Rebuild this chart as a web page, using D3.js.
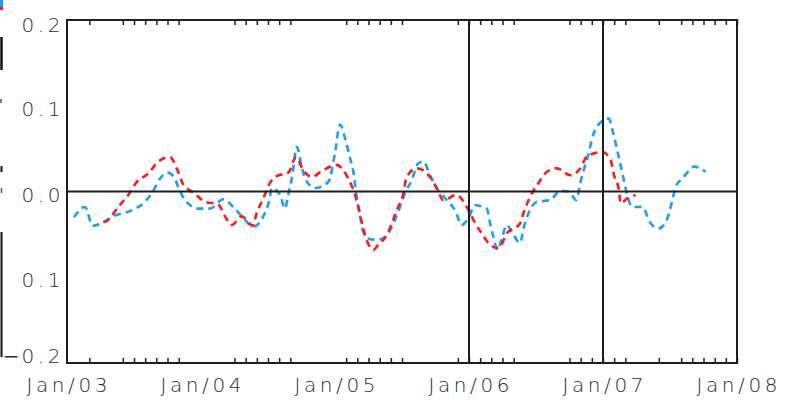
<!DOCTYPE html>
<html><head><meta charset="utf-8">
<script src="https://cdn.jsdelivr.net/npm/d3@7"></script>
<style>
html,body{margin:0;padding:0;background:#fff;}
svg{display:block;}
.lbl{font-family:"DejaVu Sans",sans-serif;font-weight:200;font-size:20px;fill:#2a2a2a;letter-spacing:3.6px;}
.minus{font-weight:400;letter-spacing:2px;}
</style></head>
<body>
<script>
// ---- data (decimal years, values) ----
const yearTicks = [2003, 2004, 2005, 2006, 2007, 2008];
const yearLabels = ["Jan/03", "Jan/04", "Jan/05", "Jan/06", "Jan/07", "Jan/08"];
const yTickValues = [0.2, 0.1, 0.0, -0.1, -0.2];
const yTickLabels = ["0.2", "0.1", "0.0", "0.1", "\u22120.2"];
const minorTickMonths = [2,5,6,7,8,9,10,15,16,17,18,19,20,25,26,27,28,29,30,35,36,37,38,39,40,45,46,47,48,49,50,53,55,56,57,58,59,60];
const markerYears = [2006, 2007];

const blueDates = [2003.052,2003.134,2003.192,2003.259,2003.343,2003.483,2003.582,2003.644,2003.694,2003.749,2003.799,2003.831,2003.881,2003.980,2004.067,2004.166,2004.241,2004.316,2004.390,2004.465,2004.510,2004.528,2004.590,2004.627,2004.651,2004.677,2004.716,2004.751,2004.784,2004.851,2004.950,2005.000,2005.037,2005.082,2005.112,2005.137,2005.162,2005.187,2005.211,2005.274,2005.323,2005.386,2005.448,2005.485,2005.522,2005.572,2005.622,2005.659,2005.709,2005.759,2005.834,2005.896,2005.946,2005.996,2006.045,2006.133,2006.157,2006.182,2006.213,2006.245,2006.282,2006.319,2006.382,2006.407,2006.445,2006.507,2006.607,2006.681,2006.744,2006.801,2006.831,2006.856,2006.894,2006.919,2006.956,2007.043,2007.076,2007.106,2007.131,2007.156,2007.181,2007.218,2007.293,2007.355,2007.418,2007.481,2007.518,2007.543,2007.593,2007.680,2007.767];
const blueValues = [-0.030,-0.018,-0.040,-0.037,-0.029,-0.022,-0.012,0.001,0.015,0.022,0.017,0.005,-0.010,-0.020,-0.020,-0.009,-0.018,-0.031,-0.041,-0.029,-0.010,0.004,-0.004,-0.020,-0.004,0.015,0.052,0.029,0.013,0.004,0.011,0.045,0.078,0.058,0.039,0.023,-0.006,-0.029,-0.047,-0.056,-0.056,-0.051,-0.033,-0.018,-0.002,0.013,0.033,0.035,0.019,0.004,-0.010,-0.022,-0.039,-0.031,-0.016,-0.020,-0.037,-0.053,-0.068,-0.055,-0.039,-0.047,-0.060,-0.043,-0.025,-0.012,-0.010,0.001,0.000,-0.010,0.010,0.025,0.045,0.062,0.076,0.085,0.068,0.048,0.031,0.013,-0.004,-0.018,-0.018,-0.037,-0.043,-0.031,-0.010,0.006,0.015,0.029,0.023];

const redDates = [2003.271,2003.308,2003.383,2003.457,2003.520,2003.607,2003.681,2003.769,2003.819,2003.868,2003.943,2004.030,2004.129,2004.179,2004.229,2004.304,2004.386,2004.416,2004.465,2004.515,2004.565,2004.651,2004.709,2004.763,2004.826,2004.913,2005.013,2005.062,2005.099,2005.137,2005.174,2005.224,2005.286,2005.323,2005.386,2005.460,2005.510,2005.535,2005.610,2005.709,2005.759,2005.808,2005.908,2005.983,2006.033,2006.095,2006.157,2006.220,2006.282,2006.382,2006.407,2006.457,2006.519,2006.582,2006.657,2006.757,2006.831,2006.881,2006.993,2007.056,2007.086,2007.119,2007.131,2007.181,2007.243];
const redValues = [-0.036,-0.033,-0.018,-0.004,0.011,0.021,0.035,0.040,0.027,0.008,-0.001,-0.012,-0.015,-0.029,-0.039,-0.029,-0.040,-0.025,-0.008,0.010,0.018,0.022,0.040,0.025,0.017,0.025,0.031,0.025,0.015,0.002,-0.018,-0.051,-0.068,-0.062,-0.051,-0.022,-0.002,0.017,0.027,0.017,0.004,-0.010,-0.004,-0.018,-0.033,-0.049,-0.062,-0.066,-0.049,-0.037,-0.025,-0.006,0.010,0.023,0.027,0.019,0.027,0.041,0.046,0.037,0.017,0.002,-0.014,-0.008,-0.004];

// ---- layout ----
const W = 791, H = 405;
const L = 67, R = 737, T = 20, B = 363;
const svg = d3.select("body").append("svg").attr("width", W).attr("height", H);

const x = d3.scaleLinear().domain([2003, 2008]).range([L, R]);
const y = d3.scaleLinear().domain([-0.2, 0.2]).range([B, T]);

const blueColor = "#1a9ff5", redColor = "#ff1a1a", axisColor = "#1e1e1e";

// left clipped fragments (cut-off legend / title)
const frag = svg.append("g");
frag.append("line").attr("x1",1.5).attr("x2",1.5).attr("y1",0).attr("y2",7).attr("stroke",blueColor).attr("stroke-width",3);
frag.append("line").attr("x1",1.5).attr("x2",1.5).attr("y1",7).attr("y2",10).attr("stroke",redColor).attr("stroke-width",3);
frag.append("line").attr("x1",1.5).attr("x2",1.5).attr("y1",37).attr("y2",70).attr("stroke","#111").attr("stroke-width",2.5);
frag.append("line").attr("x1",1).attr("x2",1).attr("y1",99).attr("y2",103).attr("stroke","#555").attr("stroke-width",1.5);
frag.append("line").attr("x1",1.5).attr("x2",1.5).attr("y1",166).attr("y2",172).attr("stroke","#111").attr("stroke-width",2);
frag.append("line").attr("x1",1.5).attr("x2",1.5).attr("y1",188).attr("y2",193).attr("stroke","#555").attr("stroke-width",1.5);
frag.append("line").attr("x1",1.5).attr("x2",1.5).attr("y1",232).attr("y2",357).attr("stroke","#111").attr("stroke-width",2);

// series
const line = d3.line().x(d => x(d[0])).y(d => y(d[1])).curve(d3.curveMonotoneX);
const blueData = blueDates.map((d, i) => [d, blueValues[i]]);
const redData = redDates.map((d, i) => [d, redValues[i]]);

svg.append("path").datum(blueData).attr("d", line).attr("fill","none")
  .attr("stroke", blueColor).attr("stroke-width", 2.6).attr("stroke-dasharray","7,5");
svg.append("path").datum(redData).attr("d", line).attr("fill","none")
  .attr("stroke", redColor).attr("stroke-width", 2.6).attr("stroke-dasharray","7,5");

// zero line and year markers
svg.append("line").attr("x1", L).attr("x2", R).attr("y1", y(0)).attr("y2", y(0))
  .attr("stroke", axisColor).attr("stroke-width", 1.8);
svg.selectAll("line.marker").data(markerYears).join("line").attr("class","marker")
  .attr("x1", d => x(d)).attr("x2", d => x(d)).attr("y1", T).attr("y2", B)
  .attr("stroke", axisColor).attr("stroke-width", 2);

// minor ticks via axes (top and bottom, inward)
const minorVals = minorTickMonths.map(m => 2003 + m / 12);
const bottomAxis = d3.axisBottom(x).tickValues(minorVals).tickSize(-5).tickFormat("");
const topAxis = d3.axisTop(x).tickValues(minorVals).tickSize(-5).tickFormat("");
const gb = svg.append("g").attr("transform", `translate(0,${B})`).call(bottomAxis);
const gt = svg.append("g").attr("transform", `translate(0,${T})`).call(topAxis);
[gb, gt].forEach(g => {
  g.select(".domain").remove();
  g.selectAll(".tick line").attr("stroke", axisColor).attr("stroke-width", 1.5);
});

// frame
svg.append("rect").attr("x", L).attr("y", T).attr("width", R - L).attr("height", B - T)
  .attr("fill", "none").attr("stroke", axisColor).attr("stroke-width", 2);

// x labels
svg.selectAll("text.xl").data(yearTicks).join("text").attr("class","lbl xl")
  .attr("x", d => x(d) + 1.8).attr("y", 392).attr("text-anchor","middle")
  .text((d, i) => yearLabels[i]);

// y labels (a leading minus gets its own, heavier tspan)
svg.selectAll("text.yl").data(yTickValues).join("text").attr("class","lbl yl")
  .attr("x", 64).attr("text-anchor","end")
  .attr("y", d => Math.max(T + 12, Math.min(B, y(d) + 10)))
  .each(function(d, i) {
    const s = yTickLabels[i];
    const t = d3.select(this);
    if (s.startsWith("\u2212")) {
      t.append("tspan").attr("class","minus").text("\u2212");
      t.append("tspan").text(s.slice(1));
    } else {
      t.text(s);
    }
  });
</script>
</body></html>
